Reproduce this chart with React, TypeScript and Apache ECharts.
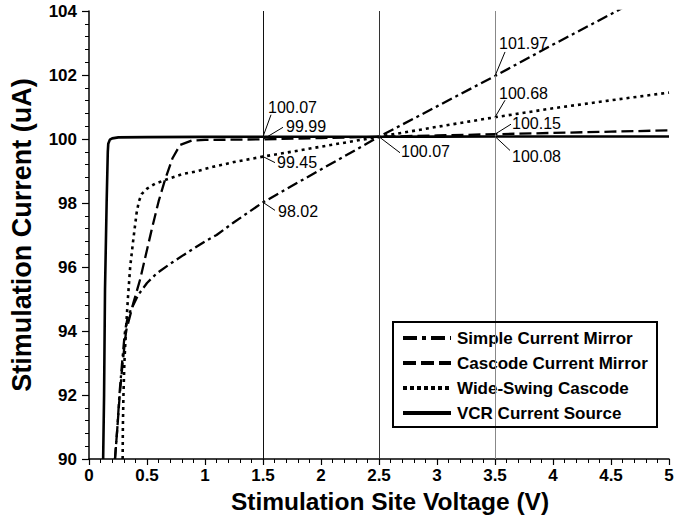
import React, { useEffect, useRef } from "react";
import * as echarts from "echarts";

const FONT = "'Liberation Sans', Arial, Helvetica, sans-serif";

const seriesNames = [
  "Simple Current Mirror",
  "Cascode Current Mirror",
  "Wide-Swing Cascode",
  "VCR Current Source",
];

const simpleX = [0.224, 0.245, 0.262, 0.285, 0.31, 0.335, 0.368, 0.425, 0.5, 0.583, 0.7, 0.813, 1.0, 1.1, 1.25, 1.5, 2.0, 2.5, 3.0, 3.5, 4.0, 4.55, 5.0];
const simpleY = [90, 91, 92, 93, 94, 94.45, 94.71, 95.13, 95.5, 95.8, 96.1, 96.37, 96.8, 97.0, 97.4, 98.02, 99.05, 100.07, 101.02, 101.97, 102.95, 104.0, 104.9];

const cascodeX = [0.224, 0.245, 0.265, 0.29, 0.32, 0.382, 0.44, 0.54, 0.6, 0.655, 0.72, 0.784, 0.885, 1.0, 1.5, 2.0, 2.5, 3.0, 3.5, 4.0, 4.5, 5.0];
const cascodeY = [90, 91, 92, 93, 94, 94.87, 95.6, 97.16, 98.05, 98.72, 99.4, 99.81, 99.95, 99.97, 99.99, 100.03, 100.07, 100.11, 100.15, 100.19, 100.23, 100.27];

const wideX = [0.29, 0.292, 0.297, 0.305, 0.318, 0.335, 0.355, 0.38, 0.41, 0.43, 0.454, 0.5, 0.569, 0.655, 0.8, 0.914, 1.07, 1.25, 1.5, 2.0, 2.5, 3.0, 3.5, 4.0, 4.5, 5.0];
const wideY = [90, 91, 92, 93, 94, 95, 96, 96.8, 97.68, 98.05, 98.28, 98.45, 98.6, 98.72, 98.9, 98.98, 99.13, 99.28, 99.45, 99.76, 100.07, 100.38, 100.68, 100.96, 101.21, 101.45];

const vcrX = [0.122, 0.13, 0.138, 0.152, 0.162, 0.166, 0.18, 0.2, 0.253, 0.5, 1.0, 1.5, 2.0, 2.5, 3.0, 3.5, 4.0, 4.5, 5.0];
const vcrY = [90, 92, 95.3, 98, 99.6, 99.85, 99.98, 100.02, 100.05, 100.06, 100.065, 100.07, 100.07, 100.07, 100.075, 100.08, 100.08, 100.08, 100.08];

const markX = [1.5, 2.5, 3.5];
const markColors = ["#111", "#333", "#888"];

const annotX = [1.5, 1.5, 1.5, 1.5, 2.5, 3.5, 3.5, 3.5, 3.5];
const annotY = [100.07, 99.99, 99.45, 98.02, 100.07, 101.97, 100.68, 100.15, 100.08];

// leader line end (lx, ly) and text anchor (tx, ty), pixel offsets from the anchor point
const annotLayout = [
  { lx: 8, ly: -22, tx: 5, ty: -29 },
  { lx: 20, ly: -12, tx: 23, ty: -13 },
  { lx: 12, ly: 6, tx: 14, ty: 6 },
  { lx: 12, ly: 8, tx: 15, ty: 9 },
  { lx: 21, ly: 16, tx: 22, ty: 15 },
  { lx: 10, ly: -24, tx: 4, ty: -32 },
  { lx: 10, ly: -17, tx: 4, ty: -24 },
  { lx: 16, ly: -10, tx: 17, ty: -11 },
  { lx: 15, ly: 14, tx: 17, ty: 20 },
];

const zip = (xs: number[], ys: number[]) => xs.map((x, i) => [x, ys[i]]);

export default function App() {
  const ref = useRef<HTMLDivElement>(null);
  useEffect(() => {
    const chart = echarts.init(ref.current!, null, { renderer: "svg" });
    const axisLabel = { color: "#000", fontFamily: FONT, fontWeight: "bold", fontSize: 17 };
    const option: any = {
      animation: false,
      backgroundColor: "#fff",
      grid: { left: 89, right: 29, top: 11, bottom: 64 },
      xAxis: {
        type: "value",
        min: 0,
        max: 5,
        interval: 0.5,
        name: "Stimulation Site Voltage (V)",
        nameLocation: "middle",
        nameGap: 25,
        nameTextStyle: { color: "#000", fontFamily: FONT, fontWeight: "bold", fontSize: 24.5, padding: [0, 0, 0, 22] },
        axisLine: { lineStyle: { color: "#000", width: 1.5 } },
        axisTick: { show: true, length: 6, lineStyle: { color: "#000", width: 1.2 } },
        minorTick: { show: true, splitNumber: 5, length: 4, lineStyle: { color: "#000", width: 1 } },
        splitLine: { show: false },
        axisLabel: { ...axisLabel, margin: 8 },
      },
      yAxis: {
        type: "value",
        min: 90,
        max: 104,
        interval: 2,
        name: "Stimulation Current (uA)",
        nameLocation: "middle",
        nameGap: 54,
        nameTextStyle: { color: "#000", fontFamily: FONT, fontWeight: "bold", fontSize: 27 },
        axisLine: { show: true, lineStyle: { color: "#000", width: 1.5 } },
        axisTick: { show: true, length: 7, lineStyle: { color: "#000", width: 1.2 } },
        minorTick: { show: true, splitNumber: 5, length: 4, lineStyle: { color: "#000", width: 1 } },
        splitLine: { show: false },
        axisLabel: { ...axisLabel, margin: 12 },
      },
      legend: {
        orient: "vertical",
        left: 401,
        top: 328,
        padding: 0,
        itemWidth: 48,
        itemHeight: 14,
        itemGap: 5,
        selectedMode: false,
        itemStyle: { opacity: 0, borderWidth: 0 },
        textStyle: { color: "#000", fontFamily: FONT, fontWeight: "bold", fontSize: 17, lineHeight: 20, padding: [0, 0, 0, 1] },
        data: [
          { name: seriesNames[0], lineStyle: { width: 4, type: [14, 5, 4, 5] } },
          { name: seriesNames[1], lineStyle: { width: 4, type: [13, 5] } },
          { name: seriesNames[2], lineStyle: { width: 4, type: [4, 3] } },
          { name: seriesNames[3], lineStyle: { width: 4, type: "solid" } },
        ],
      },
      graphic: [
        {
          type: "rect",
          shape: { x: 393, y: 322, width: 264, height: 105 },
          style: { fill: "none", stroke: "#000", lineWidth: 2 },
          z: 100,
        },
      ],
      series: [
        {
          name: seriesNames[0],
          type: "line",
          data: zip(simpleX, simpleY),
          symbol: "none",
          color: "#000",
          lineStyle: { color: "#000", width: 2.3, type: [11, 4, 3, 4] },
          markLine: {
            silent: true,
            symbol: ["none", "none"],
            label: { show: false },
            data: markX.map((x, i) => ({ xAxis: x, lineStyle: { color: markColors[i], width: 1, type: "solid" } })),
          },
        },
        {
          name: seriesNames[1],
          type: "line",
          data: zip(cascodeX, cascodeY),
          symbol: "none",
          color: "#000",
          lineStyle: { color: "#000", width: 2.3, type: [12, 5] },
        },
        {
          name: seriesNames[2],
          type: "line",
          data: zip(wideX, wideY),
          symbol: "none",
          color: "#000",
          lineStyle: { color: "#000", width: 2.6, type: [3, 4] },
        },
        {
          name: seriesNames[3],
          type: "line",
          data: zip(vcrX, vcrY),
          symbol: "none",
          color: "#000",
          lineStyle: { color: "#000", width: 2.6, type: "solid" },
        },
        {
          name: "annotations",
          type: "custom",
          clip: false,
          silent: true,
          z: 10,
          data: annotX.map((x, i) => [x, annotY[i], i]),
          encode: { x: 0, y: 1 },
          renderItem: (_params: any, api: any) => {
            const i = api.value(2);
            const p = api.coord([api.value(0), api.value(1)]);
            const o = annotLayout[i];
            return {
              type: "group",
              children: [
                {
                  type: "line",
                  shape: { x1: p[0], y1: p[1], x2: p[0] + o.lx, y2: p[1] + o.ly },
                  style: { stroke: "#000", lineWidth: 1 },
                },
                {
                  type: "text",
                  x: p[0] + o.tx,
                  y: p[1] + o.ty,
                  style: {
                    text: annotY[i].toFixed(2),
                    fill: "#000",
                    fontFamily: FONT,
                    fontSize: 16,
                    align: "left",
                    verticalAlign: "middle",
                  },
                },
              ],
            };
          },
        },
      ],
    };
    chart.setOption(option);
    return () => chart.dispose();
  }, []);
  return <div ref={ref} style={{ position: "fixed", left: 0, top: 0, width: 698, height: 523 }} />;
}
